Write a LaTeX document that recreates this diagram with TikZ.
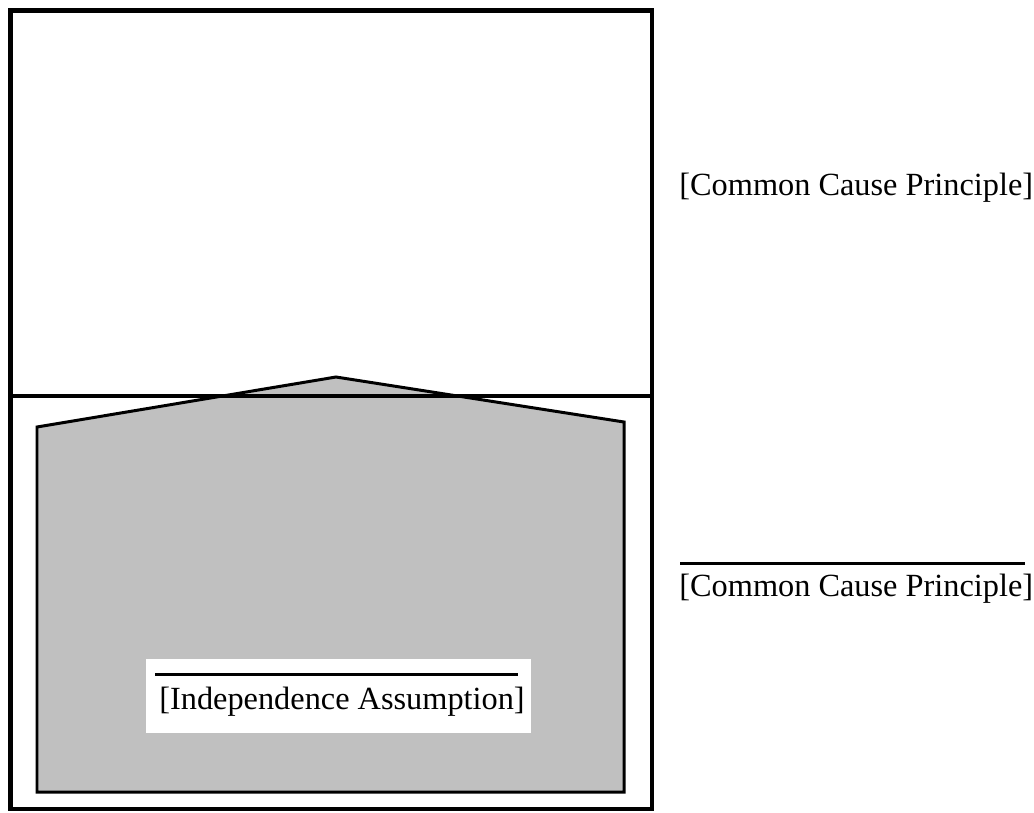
\documentclass[tikz,border=0pt]{standalone}
\usepackage{fontspec}
\setmainfont{Liberation Serif}
\definecolor{shade}{RGB}{192,192,192}
\tikzset{
	txt/.style={font=\fontsize{18.4}{22}\selectfont, inner sep=0pt, anchor=base west},
	bar/.style={line width=1.7pt}
}
\begin{document}
\begin{tikzpicture}[x=0.02cm,y=-0.02cm]
		\useasboundingbox (0,0) rectangle (1034,812);
		% Frame
			\draw [line width=2.6pt] (10.5,10.5) rectangle (652,809);
			\draw [fill=shade, line width=1.7pt, line join=miter] (37,427) -- (336,377) -- (624,422) -- (624,792) -- (37,792) -- cycle;
			\draw [line width=2pt] (10.5,396) -- (652,396);
			
			\fill [white] (146,659) rectangle (531,733);
			\node [txt] (ind) at (159,709) {[Independence Assumption]};
			\draw [bar] (155,674) -- (518,674);
			
		% Labels
			\node [txt] (ccp) at (679,195) {[Common Cause Principle]};
			\node [txt] (nccp) at (679,596) {[Common Cause Principle]};
			\draw [bar] (680,563) -- (1025,563);
			
		\end{tikzpicture}
\end{document}
